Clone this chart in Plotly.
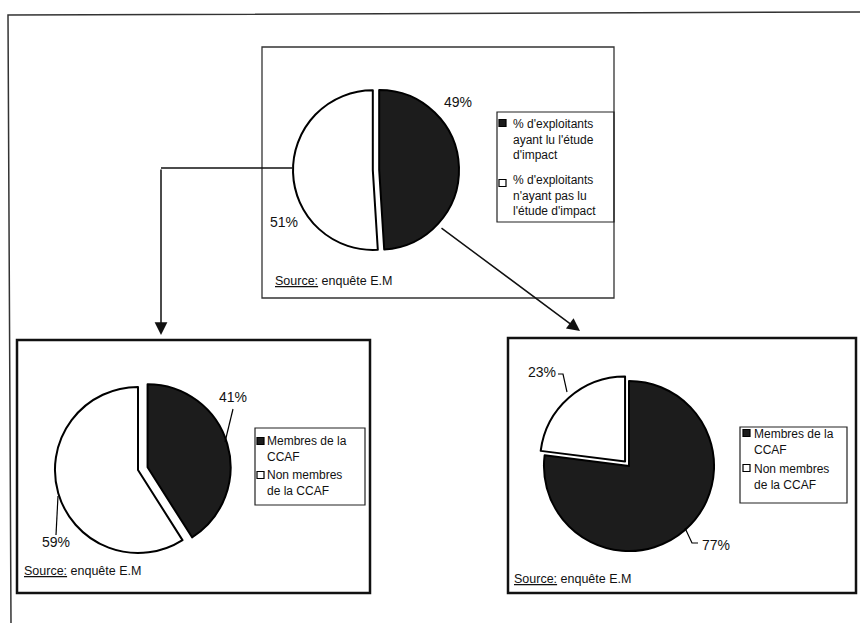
import plotly.graph_objects as go

W, H = 860, 623

# ---------------- data ----------------
top_labels = ["% d'exploitants ayant lu l'étude d'impact",
              "% d'exploitants n'ayant pas lu l'étude d'impact"]
top_legend = ["% d'exploitants<br>ayant lu l'étude<br>d'impact",
              "% d'exploitants<br>n'ayant pas lu<br>l'étude d'impact"]
top_values = [49, 51]

ccaf_labels = ["Membres de la CCAF", "Non membres de la CCAF"]
ccaf_legend = ["Membres de la<br>CCAF", "Non membres<br>de la CCAF"]
left_values = [41, 59]    # among readers of the impact study
right_values = [77, 23]   # among non-readers

source_text = "<u>Source:</u> enquête E.M"

# ---------------- style ----------------
DARK = "#1c1c1c"
LIGHT = "#ffffff"
colors = [DARK, LIGHT]
INK = "#111111"
FONT = "Arial, 'Liberation Sans', sans-serif"


def X(px):
    return px / W


def Y(py):
    return 1 - py / H


def dom(cx, cy, half):
    return dict(x=[X(cx - half), X(cx + half)], y=[Y(cy + half), Y(cy - half)])


fig = go.Figure()

pie_common = dict(sort=False, direction="clockwise", rotation=0,
                  textinfo="none", hoverinfo="label+percent",
                  showlegend=False,
                  marker=dict(colors=colors, line=dict(color="#000", width=2)))

fig.add_trace(go.Pie(labels=top_labels, values=top_values, pull=[0.04, 0.04],
                     domain=dom(376, 170, 83), **pie_common))
fig.add_trace(go.Pie(labels=ccaf_labels, values=left_values, pull=[0.12, 0],
                     domain=dom(138, 470, 93), **pie_common))
fig.add_trace(go.Pie(labels=ccaf_labels, values=right_values, pull=[0, 0.07],
                     domain=dom(629, 466, 91), **pie_common))

shapes = []
annotations = []


def rect(x0, y0, x1, y1, width=1.5, color="#000", fill=None):
    shapes.append(dict(type="rect", xref="paper", yref="paper",
                       x0=X(x0), x1=X(x1), y0=Y(y1), y1=Y(y0),
                       line=dict(color=color, width=width),
                       fillcolor=fill if fill else "rgba(0,0,0,0)", layer="above"))


def line(pts, width=1.2, color="#000"):
    d = "M " + " L ".join(f"{X(a):.5f},{Y(b):.5f}" for a, b in pts)
    shapes.append(dict(type="path", xref="paper", yref="paper", path=d,
                       line=dict(color=color, width=width), layer="above"))


def text(x, y, t, size=12, anchor="left"):
    annotations.append(dict(x=X(x), y=Y(y), xref="paper", yref="paper",
                            text=t, showarrow=False,
                            xanchor=anchor, yanchor="middle", align="left",
                            font=dict(family=FONT, size=size, color=INK)))


def arrow(x0, y0, x1, y1):
    annotations.append(dict(x=X(x1), y=Y(y1), xref="paper", yref="paper",
                            ax=x0 - x1, ay=y0 - y1, axref="pixel", ayref="pixel",
                            text="", showarrow=True, arrowhead=2, arrowsize=1.7,
                            arrowwidth=1.5, arrowcolor="#111"))


# outer frame (top and left edges of the scanned page)
line([(860, 12), (8, 15), (11, 623)], width=1.5, color="#333")

# panel boxes
rect(262, 47, 614, 298, width=1.3, color="#333")
rect(17, 340, 370, 593, width=2.5, color="#111")
rect(508, 338, 856, 593, width=2.5, color="#111")

# connecting arrows
line([(292, 168), (161, 168)], width=1.5, color="#111")
arrow(161, 168, 161, 335)
arrow(440, 227, 580, 331)


def legend(box, entries, sq_x, rows, text_x, size=12):
    rect(*box, width=1.2, color="#222")
    for (lbl, col, (sq_y, txt_y)) in zip(entries, colors, rows):
        rect(sq_x, sq_y - 3.5, sq_x + 7, sq_y + 3.5, width=1.2, color="#000", fill=col)
        text(text_x, txt_y, lbl, size=size)


def pct(v):
    return f"{v}%"


# --- top panel
text(458, 102, pct(top_values[0]), size=14, anchor="center")
text(284, 222, pct(top_values[1]), size=14, anchor="center")
legend((497, 112, 614, 222), top_legend, 499, [(123, 139), (183, 195)], 511)
text(273, 281, source_text, size=12.5)

# --- bottom-left panel
text(233, 397, pct(left_values[0]), size=14, anchor="center")
text(56, 542, pct(left_values[1]), size=14, anchor="center")
line([(233, 409), (225, 442)])
line([(56, 535), (58, 496)])
legend((255, 428, 365, 505), ccaf_legend, 257, [(441, 449), (475, 483)], 265)
text(22, 571, source_text, size=12.5)

# --- bottom-right panel
text(542, 372, pct(right_values[1]), size=14, anchor="center")
text(716, 545, pct(right_values[0]), size=14, anchor="center")
line([(558, 374), (563, 374), (567, 392)])
line([(698, 543), (692, 543), (685, 528)])
legend((740, 427, 847, 503), ccaf_legend, 743, [(433, 442), (468, 477)], 752)
text(512, 579, source_text, size=12.5)

fig.update_layout(width=W, height=H, margin=dict(l=0, r=0, t=0, b=0),
                  paper_bgcolor="white", plot_bgcolor="white",
                  shapes=shapes, annotations=annotations,
                  font=dict(family=FONT, color=INK))

fig.write_html("out.html", config={"displayModeBar": False},
               post_script="document.body.style.margin='0';document.body.style.overflow='hidden';")
